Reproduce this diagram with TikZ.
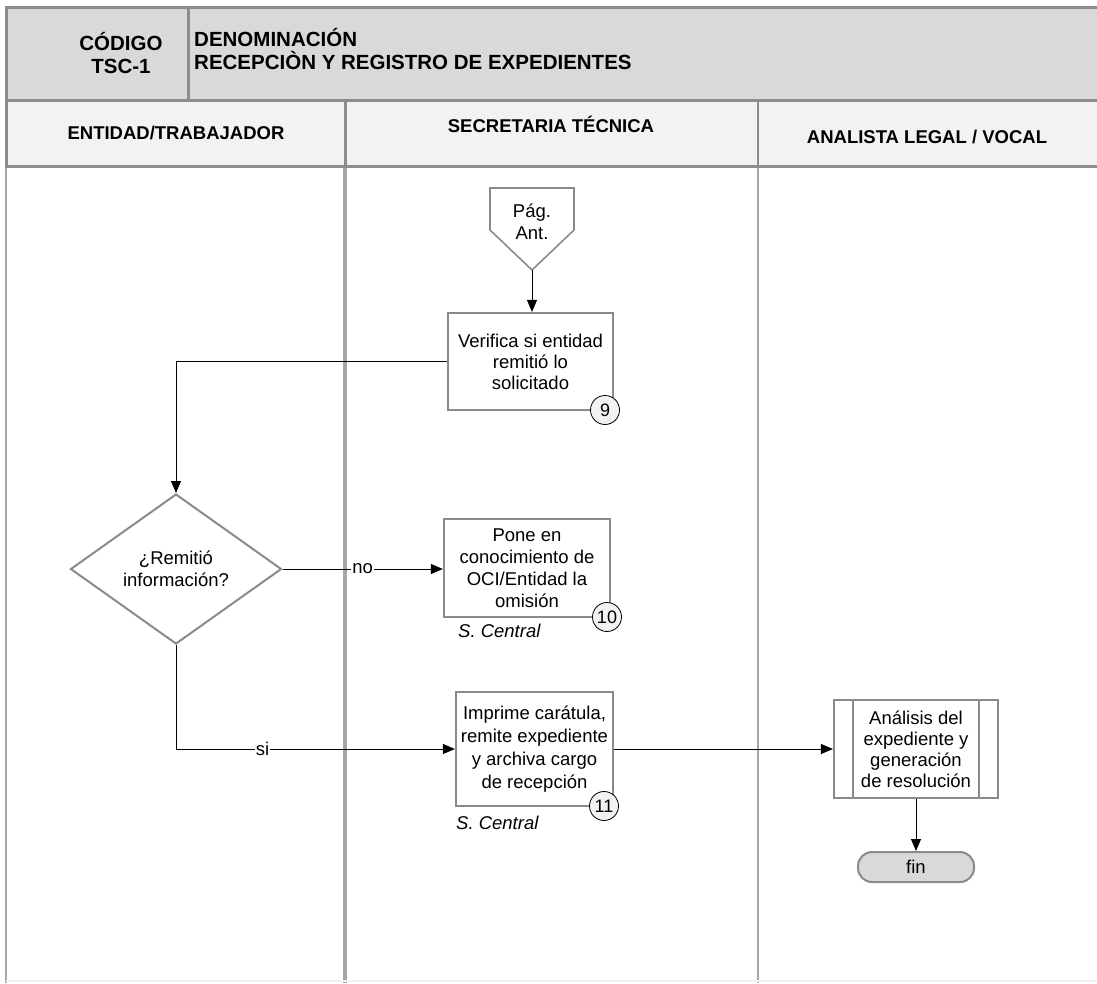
\documentclass[tikz,border=0pt]{standalone}
\usepackage{fontspec}
\setmainfont{Liberation Sans}
\usetikzlibrary{arrows.meta,calc,shapes.geometric}
\definecolor{hdr}{HTML}{D9D9D9}
\definecolor{lanehdr}{HTML}{F2F2F2}
\definecolor{bord}{HTML}{8C8C8C}
\definecolor{lanecol}{HTML}{A6A6A6}
\definecolor{boxb}{HTML}{8A8A8A}
\begin{document}
\begin{tikzpicture}[x=1pt,y=-1pt,
  txt/.style={font=\fontsize{18.5}{21.5}\selectfont, align=center},
  procbox/.style={draw=boxb, line width=2.2pt, fill=white, txt, inner sep=0pt},
  num/.style={circle, draw=black, line width=0.8pt, fill=lanehdr, minimum size=29pt, inner sep=0pt, font=\fontsize{18}{18}\selectfont},
  conn/.style={line width=0.9pt, -{Triangle[length=12pt,width=10pt]}},
  hb/.style={font=\bfseries\fontsize{18.5}{23.5}\selectfont, align=center},
  hbig/.style={font=\bfseries\fontsize{20.5}{23.5}\selectfont},
  lbl/.style={fill=white, inner sep=1pt, font=\fontsize{18.5}{21.5}\selectfont},
  loc/.style={font=\itshape\fontsize{18.5}{21.5}\selectfont, anchor=west, inner sep=0pt},
]
\useasboundingbox (0,0) rectangle (1097,983);
\fill[white] (0,0) rectangle (1097,983);

% lanes body
\draw[lanecol, line width=2.5pt] (6,166) -- (6,983);
\draw[lanecol, line width=4pt] (345,166) -- (345,983);
\draw[lanecol, line width=2pt] (758,166) -- (758,983);
\draw[lanehdr, line width=2pt] (6,981) -- (1097,981);

% header
\draw[bord, line width=3pt, fill=hdr] (6,7) rectangle (1104,100);
\draw[bord, line width=3pt] (188,7) -- (188,100);
\draw[bord, line width=3pt, fill=lanehdr] (6,100) rectangle (1104,166);
\draw[bord, line width=3pt] (345,100) -- (345,166);
\draw[bord, line width=2.5pt] (758,100) -- (758,166);

\node[hbig, align=center] (cod) at (121,53) {CÓDIGO\\TSC-1};
\node[hbig, align=left, anchor=west, inner sep=0pt] (den) at (194,49) {DENOMINACIÓN\\RECEPCIÒN Y REGISTRO DE EXPEDIENTES};
\node[hb] (l1) at (176,133) {ENTIDAD/TRABAJADOR};
\node[hb] (l2) at (551,124) {SECRETARIA TÉCNICA};
\node[hb] (l3) at (927,137) {ANALISTA LEGAL / VOCAL};

% off-page connector
\draw[boxb, line width=1.6pt, fill=white] (490,188) -- (574,188) -- (574,230) -- (532,270) -- (490,230) -- cycle;
\node[txt] (pag) at (532,222) {Pág.\\Ant.};
\coordinate (pagtip) at (532,270);

% boxes
\node[procbox, minimum width=165pt, minimum height=97pt, font=\fontsize{18.5}{21}\selectfont] (b9) at (530.5,361.5) {Verifica si entidad\\remitió lo\\solicitado};
\node[num] (n9) at (605,410) {9};

\node[procbox, diamond, minimum width=211pt, minimum height=150pt, line width=2pt] (dia) at (176,569) {¿Remitió\\información?};

\node[procbox, minimum width=166pt, minimum height=98pt, font=\fontsize{18.5}{22}\selectfont] (b10) at (527,568) {Pone en\\conocimiento de\\OCI/Entidad la\\omisión};
\node[num] (n10) at (607,617) {10};
\node[loc] (sc1) at (458,631) {S. Central};

\node[procbox, minimum width=157pt, minimum height=114pt, font=\fontsize{18.5}{23}\selectfont] (b11) at (534.5,749) {Imprime carátula,\\remite expediente\\y archiva cargo\\de recepción};
\node[num] (n11) at (604,806) {11};
\node[loc] (sc2) at (456,823) {S. Central};

\node[procbox, minimum width=164pt, minimum height=98pt, font=\fontsize{18.5}{21}\selectfont] (pp) at (916,749) {Análisis del\\expediente y\\generación\\de resolución};
\draw[boxb, line width=2pt] ($(pp.north west)+(20,0)$) -- ($(pp.south west)+(20,0)$);
\draw[boxb, line width=2pt] ($(pp.north east)+(-20,0)$) -- ($(pp.south east)+(-20,0)$);

\node[draw=boxb, line width=2pt, fill=hdr, rounded corners=14pt, minimum width=116pt, minimum height=30pt, txt] (fin) at (916,867) {fin};

% connectors
\draw[conn] (pagtip) -- (pagtip |- b9.north);
\draw[conn] (b9.west) -- (b9.west -| dia.north) -- (dia.north);
\draw[conn] (dia.east) -- node[lbl] {no} (dia.east -| b10.west);
\draw[conn] (dia.south) -- (dia.south |- b11.west) -- node[lbl, pos=0.31] {si} (b11.west);
\draw[conn] (b11.east) -- (pp.west);
\draw[conn] (pp.south) -- (pp.south |- fin.north);
\end{tikzpicture}
\end{document}
